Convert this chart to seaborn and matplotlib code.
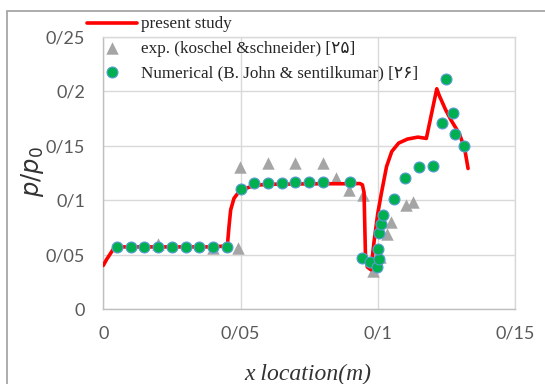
import numpy as np
import pandas as pd
import seaborn as sns
import matplotlib
matplotlib.use("Agg")
import matplotlib.pyplot as plt
from matplotlib.patches import Rectangle
from matplotlib.ticker import FuncFormatter

# ---- data ----
line_x = [0.0, 0.0012, 0.0042, 0.010, 0.020, 0.030, 0.040, 0.0452, 0.0458, 0.0464, 0.0476,
          0.0494, 0.0518, 0.0550, 0.060, 0.070, 0.080, 0.090, 0.0935, 0.0944, 0.0950, 0.0955,
          0.0962, 0.0975, 0.0987, 0.1000, 0.1013, 0.1032, 0.1051, 0.1076, 0.1108, 0.1146,
          0.1177, 0.1215, 0.1224, 0.1247, 0.1268, 0.1297, 0.1316, 0.1329]
line_y = [0.040, 0.0455, 0.057, 0.057, 0.057, 0.057, 0.057, 0.058, 0.0758, 0.0909, 0.1015,
          0.1076, 0.1106, 0.1135, 0.1145, 0.1148, 0.1150, 0.1150, 0.1152, 0.1140, 0.1070, 0.0510,
          0.0385, 0.0360, 0.0630, 0.0877, 0.1060, 0.1308, 0.1446, 0.1523, 0.1560, 0.1578,
          0.1566, 0.2022, 0.1960, 0.1830, 0.1730, 0.1610, 0.1480, 0.1290]

exp_x = [0.020, 0.040, 0.049, 0.0497, 0.060, 0.070, 0.080, 0.0847, 0.0895, 0.0948, 0.0981,
         0.1008, 0.1033, 0.1050, 0.1102, 0.1130]
exp_y = [0.060, 0.056, 0.056, 0.1305, 0.1336, 0.1336, 0.1340, 0.1199, 0.1088, 0.1046, 0.0345,
         0.048, 0.0693, 0.0800, 0.0958, 0.0985]

num_x = [0.005, 0.010, 0.015, 0.020, 0.025, 0.030, 0.035, 0.040, 0.045, 0.050, 0.055, 0.060,
         0.065, 0.070, 0.075, 0.080, 0.090, 0.0943, 0.0973, 0.0996, 0.1003, 0.1001, 0.1005,
         0.1010, 0.1020, 0.1058, 0.1098, 0.1149, 0.1201, 0.1233, 0.1250, 0.1273, 0.1282, 0.1315]
num_y = [0.057, 0.057, 0.057, 0.057, 0.057, 0.057, 0.057, 0.057, 0.057, 0.110, 0.1155, 0.1155,
         0.1155, 0.1167, 0.1167, 0.1167, 0.1167, 0.0471, 0.0436, 0.0386, 0.0459, 0.0554, 0.0700,
         0.0781, 0.0862, 0.1010, 0.1200, 0.1306, 0.1314, 0.1710, 0.2110, 0.1800, 0.1605, 0.1500]

labels = ["present study", "exp. (koschel &schneider) [\u06f2\u06f5]",
          "Numerical (B. John & sentilkumar) [\u06f2\u06f6]"]
x_ticks = [0, 0.05, 0.10, 0.15]
y_ticks = [0, 0.05, 0.10, 0.15, 0.20, 0.25]

sns.set_theme(style="white")
plt.rcParams["mathtext.fontset"] = "dejavusans"

W, H = 545, 384
fig = plt.figure(figsize=(W / 100, H / 100), dpi=100)
ax = fig.add_axes([103.3 / W, (H - 309) / H, (515 - 103.3) / W, (309 - 36.7) / H])

line_df = pd.DataFrame({"x": line_x, "y": line_y})
exp_df = pd.DataFrame({"x": exp_x, "y": exp_y})
num_df = pd.DataFrame({"x": num_x, "y": num_y})

sns.lineplot(data=line_df, x="x", y="y", sort=False, color="#FF0000", linewidth=2.6,
             ax=ax, label=labels[0], zorder=3)
sns.scatterplot(data=exp_df, x="x", y="y", marker="^", s=80, color="#A5A5A5",
                edgecolor="#A5A5A5", linewidth=0, ax=ax, label=labels[1], zorder=2)
sns.scatterplot(data=num_df, x="x", y="y", marker="o", s=62, color="#00B050",
                edgecolor="#5B9BD5", linewidth=0.8, ax=ax, label=labels[2], zorder=4)

ax.set_xlim(0, 0.15)
ax.set_ylim(0, 0.25)
ax.set_xticks(x_ticks)
ax.set_yticks(y_ticks)
fmt = FuncFormatter(lambda v, p: f"{round(v, 2):g}".replace(".", "/"))
ax.xaxis.set_major_formatter(fmt)
ax.yaxis.set_major_formatter(fmt)
ax.grid(True, color="#D9D9D9", linewidth=1.0)
ax.set_axisbelow(True)
for s in ["top", "right"]:
    ax.spines[s].set_color("#D9D9D9")
for s in ["left", "bottom"]:
    ax.spines[s].set_color("#BFBFBF")
for s in ax.spines.values():
    s.set_linewidth(1.0)
ax.tick_params(axis="both", length=0, labelsize=13, labelcolor="#595959")
ax.tick_params(axis="y", pad=13)
ax.tick_params(axis="x", pad=12)
for t in ax.get_xticklabels() + ax.get_yticklabels():
    t.set_fontfamily(["Lato", "DejaVu Sans"])

ax.set_xlabel("x location(m)", fontsize=17, fontfamily="Liberation Serif",
              fontstyle="italic", color="#333333")
ax.xaxis.set_label_coords((308 - 103.3) / 411.7, (309 - 374) / 272.3)
ax.xaxis.label.set_va("center")
ax.set_ylabel(r"$p/p_0$", fontsize=17.5, color="#333333")
ax.yaxis.set_label_coords((32 - 103.3) / 411.7, (309 - 172) / 272.3)
ax.yaxis.label.set_va("center")

handles, labs = ax.get_legend_handles_labels()
leg = ax.legend(handles, labs, loc="upper left", bbox_to_anchor=(87 / W, 1 - 16.5 / H),
                bbox_transform=fig.transFigure, frameon=False, borderpad=0,
                borderaxespad=0, handlelength=2.9, handletextpad=0.25, labelspacing=0.48,
                prop={"family": ["Liberation Serif", "DejaVu Sans"], "size": 12.3})
for t in leg.get_texts():
    t.set_color("#262626")

fig.patches.append(Rectangle((6.7 / W, -0.2), 1.2, 1.2 - 11 / H, transform=fig.transFigure,
                             fill=False, edgecolor="#A6A6A6", linewidth=1.3))

fig.savefig("out.png", dpi=100)
